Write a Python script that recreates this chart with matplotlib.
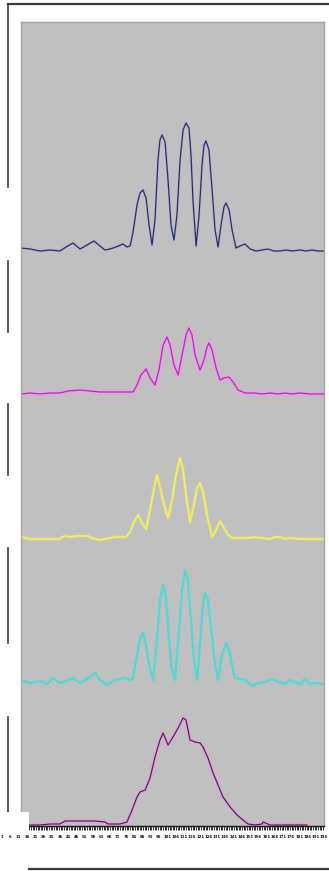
import matplotlib
matplotlib.use("Agg")
import matplotlib.pyplot as plt
from matplotlib.lines import Line2D
from matplotlib.patches import Rectangle
import numpy as np

# Channel positions and heights above each trace's baseline
navy_x = [0, 5.5, 11.5, 17.6, 23.6, 27.3, 31.5, 35.8, 40, 44.2, 47.9, 50.9, 53.9, 57.6,
          61.8, 64.2, 66.1, 67.9, 70.3, 72.1, 73.9, 75.8, 77.6, 79.4, 81.2, 83, 84.2,
          85.5, 87.3, 89.1, 90.9, 92.7, 94.5, 96.4, 98.2, 100, 101.8, 103, 104.2, 106.1,
          107.9, 109.7, 110.9, 112.1, 113.9, 115.8, 117.6, 119.4, 121.2, 123, 124.2,
          126.1, 127.9, 130.3, 132.7, 135.8, 138.8, 142.4, 146.1, 149.7, 153.3, 157,
          160.6, 164.2, 169.1, 172.7, 176.4, 180, 183.6]
navy_y = [2, 1, -1, 0, -1, 3, 7, 1, 5, 9, 4, 0, 1, 3,
          6, 3, 4, 18, 45, 57, 60, 52, 25, 5, 30, 90, 110,
          115, 108, 70, 25, 10, 35, 90, 120, 127, 122, 95, 50, 4,
          35, 85, 105, 109, 100, 60, 20, 3, 25, 43, 47,
          40, 20, 2, 4, 6, 1, -1, 0, 1, -1, -1,
          0, -1, 0, -1, 0, -1, -1]

magenta_x = [0, 5.5, 11.5, 17.6, 23.6, 28.5, 35.8, 41.8, 47.9, 53.9, 60, 67.9, 70.3,
             72.7, 75.8, 78.2, 81.2, 83.6, 86.1, 88.5, 90.3, 92.7, 95.2, 97.6, 100,
             101.8, 103.6, 105.5, 108.5, 110.9, 112.7, 113.9, 115.8, 118.2, 120.6, 123,
             126.1, 128.5, 131.5, 135.8, 141.8, 146.1, 150.9, 155.8, 160, 164.2, 169.1,
             175.2, 183.6]
magenta_y = [-1, 0, -1, 0, 0, 2, 3, 2, 1, 1, 1, 1, 8,
             18, 24, 15, 8, 23, 48, 56, 48, 28, 18, 38, 58,
             65, 58, 38, 23, 33, 46, 50, 43, 25, 13, 15,
             16, 11, 3, 0, 0, -1, 0, -1, 0, -1, 0,
             -1, -1]

yellow_x = [0, 2.4, 5.5, 23.6, 24.8, 27.3, 29.7, 32.7, 35.8, 40.6, 43, 47.9, 50.9, 53.9,
            57, 63.6, 66.1, 68.5, 70.9, 73.3, 75.8, 78.2, 80.6, 82.4, 84.2, 86.7, 89.1,
            91.5, 93.9, 96.4, 98.2, 100, 102.4, 104.8, 106.7, 108.5, 110.3, 112.7,
            115.8, 118.2, 120.6, 123, 125.5, 127.9, 132.7, 137.6, 141.8, 146.1, 150.9,
            154.5, 157, 160, 163, 169.1, 183.6]
yellow_y = [2, 1, 0, 0, 2, 3, 2, 3, 3, 3, 1, -1, 0, 1,
            2, 2, 7, 17, 24, 16, 10, 29, 51, 64, 52, 34, 21,
            39, 64, 81, 69, 44, 17, 34, 51, 56, 47, 24,
            2, 9, 18, 11, 4, 1, 1, 1, 2, 1, 0,
            2, 2, 0, 1, 0, 0]

cyan_x = [0, 5.5, 11.5, 15.8, 19.4, 23.6, 27.3, 31.5, 35.8, 40, 44.8, 47.9, 52.1, 57,
          63, 66.1, 67.9, 70.3, 72.1, 73.9, 75.8, 77.6, 80, 82.4, 84.2, 86.1, 87.9,
          89.7, 91.5, 93.3, 95.8, 97.6, 99.4, 101.2, 103, 104.8, 106.7, 109.1, 110.3,
          111.5, 113.3, 115.2, 117.6, 119.4, 121.8, 124.2, 126.1, 127.9, 129.7, 132.7,
          135.8, 140, 143.6, 147.9, 152.1, 155.8, 160, 163, 166.1, 169.1, 172.1, 175.2,
          179.4, 183.6]
cyan_y = [3, 0, 2, -1, 5, 0, 2, 5, 0, 4, 10, 3, -2, 3,
          5, 3, 5, 28, 45, 50, 38, 18, 3, 43, 83, 98, 85,
          43, 13, 3, 53, 93, 113, 103, 63, 23, 3, 53, 78,
          90, 83, 53, 18, 3, 28, 40, 33, 18, 5, 4,
          3, -3, 0, 1, 4, 1, -1, 3, 1, -1, 4, -1,
          0, -1]

purple_x = [4.8, 11.5, 17.6, 23.6, 26.7, 35.8, 44.8, 50.9, 52.7, 60, 64.2, 67.3, 70.3,
            72.1, 75.2, 78.2, 81.2, 84.2, 86.1, 89.1, 92.1, 95.2, 98.2, 100, 102.4,
            105.5, 108.5, 110.3, 113.3, 116.4, 119.4, 122.4, 126.7, 130.9, 134.5, 137.6,
            141.8, 146.1, 146.7, 150.9, 157, 163, 169.1, 173.3]
purple_y = [-2, -2, -1, -1, 2, 2, 2, 1, -1, -1, 1, 13, 26,
            31, 33, 45, 66, 83, 90, 78, 86, 95, 105, 103, 83,
            81, 80, 76, 65, 50, 38, 26, 16, 8, 3, -1,
            -2, -1, 1, -2, -2, -2, -2, -2]

# baseline of each trace inside the gray panel (top to bottom)
offsets = [576, 433, 287, 143, 3]

tick_labels = [str(v) for v in range(1, 200, 5)]

W, H = 329, 871
fig = plt.figure(figsize=(W / 100, H / 100), dpi=100)
fig.patch.set_facecolor('white')

# gray panel
ax = fig.add_axes([21 / W, 1 - 826 / H, 303 / W, 804 / H])
ax.set_facecolor('#c0c0c0')
ax.set_xlim(0, 183.6)
ax.set_ylim(0, 804)
for s in ['left', 'top', 'right']:
    ax.spines[s].set_color('#a4a4a4')
    ax.spines[s].set_linewidth(1.0)
ax.spines['bottom'].set_color('#1a1a1a')
ax.spines['bottom'].set_linewidth(1.0)
ax.set_yticks([])
ax.set_xticks(np.arange(5, 184, 1), minor=True)
ax.set_xticks([])
ax.tick_params(axis='x', which='minor', length=3.2, width=0.6, color='#111111',
               direction='out')

# traces
nx, ny = np.array(navy_x), np.array(navy_y) + offsets[0]
ax.plot(nx, ny, color='#aeb0c8', lw=2.0, alpha=0.6)
ax.plot(nx, ny, color='#2c2c6c', lw=0.9)

mx, my = np.array(magenta_x), np.array(magenta_y) + offsets[1]
ax.plot(mx, my, color='#e6a2e6', lw=2.8)
ax.plot(mx, my, color='#b52cb5', lw=0.9)

yx, yy = np.array(yellow_x), np.array(yellow_y) + offsets[2]
ax.plot(yx, yy, color='#d8d890', lw=2.4, alpha=0.7)
ax.plot(yx, yy, color='#f4f25c', lw=1.1)

cx, cy = np.array(cyan_x), np.array(cyan_y) + offsets[3]
ax.plot(cx, cy, color='#9ccccc', lw=2.8, alpha=0.7)
ax.plot(cx, cy, color='#5cd4d4', lw=1.5)

px_, py_ = np.array(purple_x), np.array(purple_y) + offsets[4]
ax.plot(px_, py_, color='#d8a6d8', lw=2.8)
ax.plot(px_, py_, color='#4e1648', lw=0.8)

# white patch at lower left
fig.add_artist(Rectangle((0, 1 - 833 / H), 29 / W, 21 / H, transform=fig.transFigure,
                         facecolor='white', edgecolor='none', zorder=10))

# tick label row
axl = fig.add_axes([0, 1 - 832 / H, 1, 0.0001])
axl.set_xlim(-0.3, 199)
axl.set_xticks(range(1, 200, 5))
axl.set_xticklabels(tick_labels, fontsize=3.1, fontweight='bold', color='#111111',
                    fontstretch='condensed')
axl.tick_params(axis='x', length=0, pad=1.8)
axl.set_yticks([])
for s in axl.spines.values():
    s.set_visible(False)
axl.patch.set_alpha(0)

# frame lines
fig.add_artist(Line2D([8 / W, 1], [1 - 4 / H, 1 - 4 / H], transform=fig.transFigure,
                      color='#3a3a3a', lw=1.6))
for y0, y1 in [(4, 187), (261, 332), (404, 475), (548, 643), (717, 812)]:
    fig.add_artist(Line2D([8 / W, 8 / W], [1 - y0 / H, 1 - y1 / H],
                          transform=fig.transFigure, color='#3a3a3a', lw=1.2))
fig.add_artist(Line2D([29 / W, 1], [1 - 869 / H, 1 - 869 / H], transform=fig.transFigure,
                      color='#3a3a3a', lw=1.6))

fig.savefig('out.png', dpi=100)
